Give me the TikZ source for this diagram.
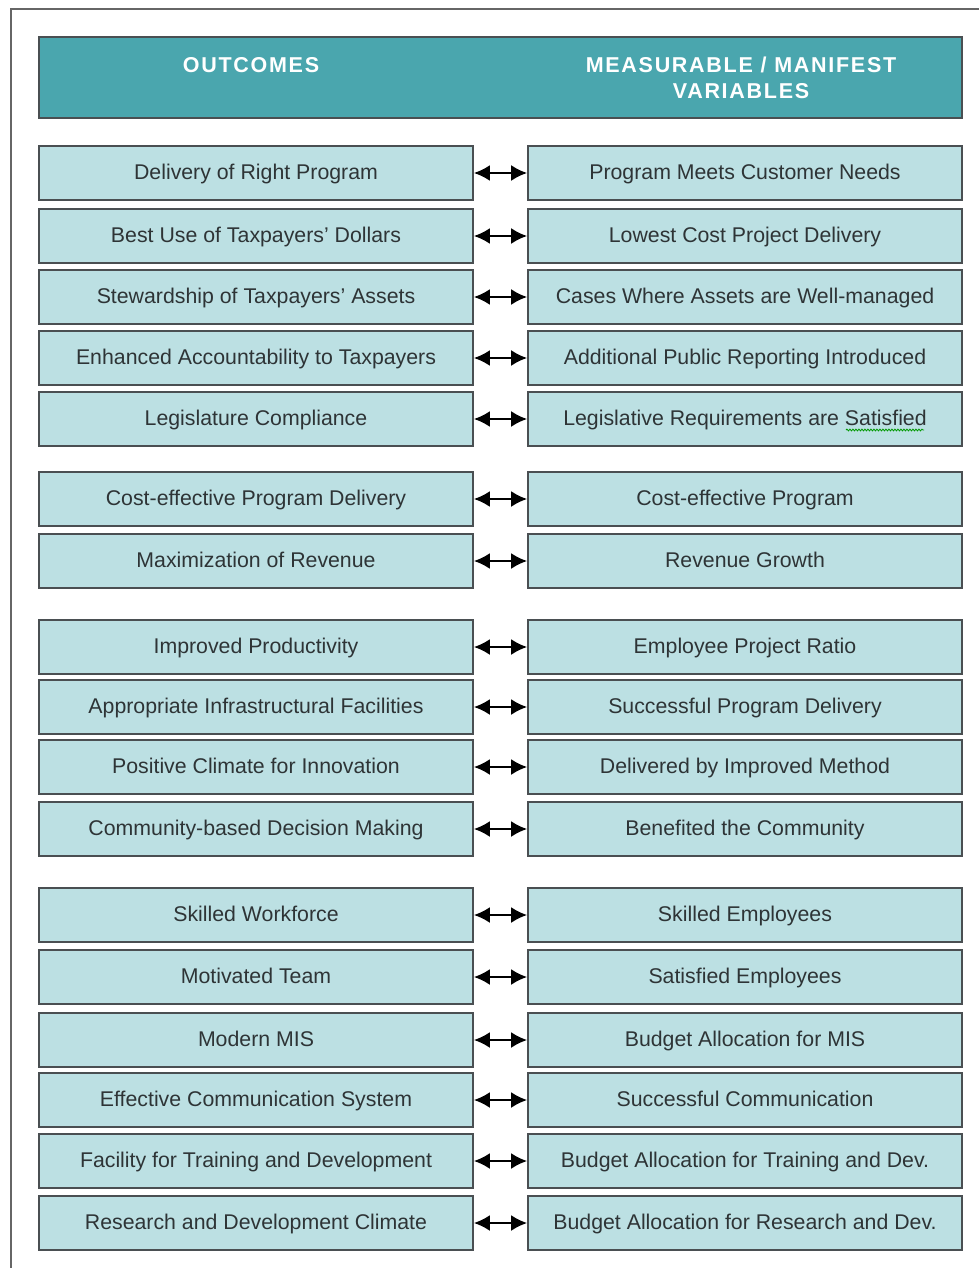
\documentclass[tikz,border=0pt]{standalone}
\usepackage{fontspec}
\setmainfont{Liberation Sans}
\newfontfamily\headfont[LetterSpace=8]{Liberation Sans}
\usetikzlibrary{arrows.meta,decorations.pathmorphing}
\definecolor{headteal}{HTML}{4AA6AE}
\definecolor{boxcyan}{HTML}{BCE0E3}
\definecolor{boxline}{HTML}{4A4F52}
\definecolor{txtgray}{HTML}{2E3436}

\tikzset{
  pairbox/.style={draw=boxline, line width=1.6pt, fill=boxcyan, minimum width=434pt,
    minimum height=54pt, inner sep=0pt, text=txtgray, text height=15pt, text depth=3pt,
    font=\fontsize{21.3}{24}\selectfont},
  headbox/.style={draw=boxline, line width=1.6pt, fill=headteal, minimum width=923pt,
    minimum height=81pt, inner sep=0pt},
  headtext/.style={text=white, font=\headfont\bfseries\fontsize{21.5}{26}\selectfont, align=center},
  link/.style={{Latex[length=16pt,width=16pt]}-{Latex[length=16pt,width=16pt]}, line width=2.6pt, black}
}

\begin{document}
\begin{tikzpicture}[x=1pt,y=-1pt]
		%%%%% START %%%%%
		\useasboundingbox (0,0) rectangle (979,1268);
		\draw[line width=1.5pt, color=black!60] (11,1268) -- (11,9) -- (979,9);

		% heading bar
		\node[headbox] (head) at (500.5,77.5) {};
		\node[headtext] (hout) at (251,65) {OUTCOMES};
		\node[headtext] (hvar) at (741,78) {MEASURABLE / MANIFEST\\VARIABLES};

		% first group
		\node[pairbox] (l1) at (256,173) {Delivery of Right Program};
		\node[pairbox] (r1) at (745,173) {Program Meets Customer Needs};
		\draw[link] (l1) -- (r1);
		\node[pairbox] (l2) at (256,236) {Best Use of Taxpayers' Dollars};
		\node[pairbox] (r2) at (745,236) {Lowest Cost Project Delivery};
		\draw[link] (l2) -- (r2);
		\node[pairbox] (l3) at (256,297) {Stewardship of Taxpayers' Assets};
		\node[pairbox] (r3) at (745,297) {Cases Where Assets are Well-managed};
		\draw[link] (l3) -- (r3);
		\node[pairbox] (l4) at (256,358) {Enhanced Accountability to Taxpayers};
		\node[pairbox] (r4) at (745,358) {Additional Public Reporting Introduced};
		\draw[link] (l4) -- (r4);
		\node[pairbox] (l5) at (256,419) {Legislature Compliance};
		\node[pairbox] (r5) at (745,419) {Legislative Requirements are Satisfied};
		\draw[link] (l5) -- (r5);
		\draw[green!60!black, line width=0.8pt, decorate,
		  decoration={snake, amplitude=0.9pt, segment length=3pt}] (846,430) -- (924,430);

		% second group
		\node[pairbox] (l6) at (256,499) {Cost-effective Program Delivery};
		\node[pairbox] (r6) at (745,499) {Cost-effective Program};
		\draw[link] (l6) -- (r6);
		\node[pairbox] (l7) at (256,561) {Maximization of Revenue};
		\node[pairbox] (r7) at (745,561) {Revenue Growth};
		\draw[link] (l7) -- (r7);

		% third group
		\node[pairbox] (l8) at (256,647) {Improved Productivity};
		\node[pairbox] (r8) at (745,647) {Employee Project Ratio};
		\draw[link] (l8) -- (r8);
		\node[pairbox] (l9) at (256,707) {Appropriate Infrastructural Facilities};
		\node[pairbox] (r9) at (745,707) {Successful Program Delivery};
		\draw[link] (l9) -- (r9);
		\node[pairbox] (l10) at (256,767) {Positive Climate for Innovation};
		\node[pairbox] (r10) at (745,767) {Delivered by Improved Method};
		\draw[link] (l10) -- (r10);
		\node[pairbox] (l11) at (256,829) {Community-based Decision Making};
		\node[pairbox] (r11) at (745,829) {Benefited the Community};
		\draw[link] (l11) -- (r11);

		% fourth group
		\node[pairbox] (l12) at (256,915) {Skilled Workforce};
		\node[pairbox] (r12) at (745,915) {Skilled Employees};
		\draw[link] (l12) -- (r12);
		\node[pairbox] (l13) at (256,977) {Motivated Team};
		\node[pairbox] (r13) at (745,977) {Satisfied Employees};
		\draw[link] (l13) -- (r13);
		\node[pairbox] (l14) at (256,1040) {Modern MIS};
		\node[pairbox] (r14) at (745,1040) {Budget Allocation for MIS};
		\draw[link] (l14) -- (r14);
		\node[pairbox] (l15) at (256,1100) {Effective Communication System};
		\node[pairbox] (r15) at (745,1100) {Successful Communication};
		\draw[link] (l15) -- (r15);
		\node[pairbox] (l16) at (256,1161) {Facility for Training and Development};
		\node[pairbox] (r16) at (745,1161) {Budget Allocation for Training and Dev.};
		\draw[link] (l16) -- (r16);
		\node[pairbox] (l17) at (256,1223) {Research and Development Climate};
		\node[pairbox] (r17) at (745,1223) {Budget Allocation for Research and Dev.};
		\draw[link] (l17) -- (r17);
		%%%%% END %%%%%
	\end{tikzpicture}
\end{document}
